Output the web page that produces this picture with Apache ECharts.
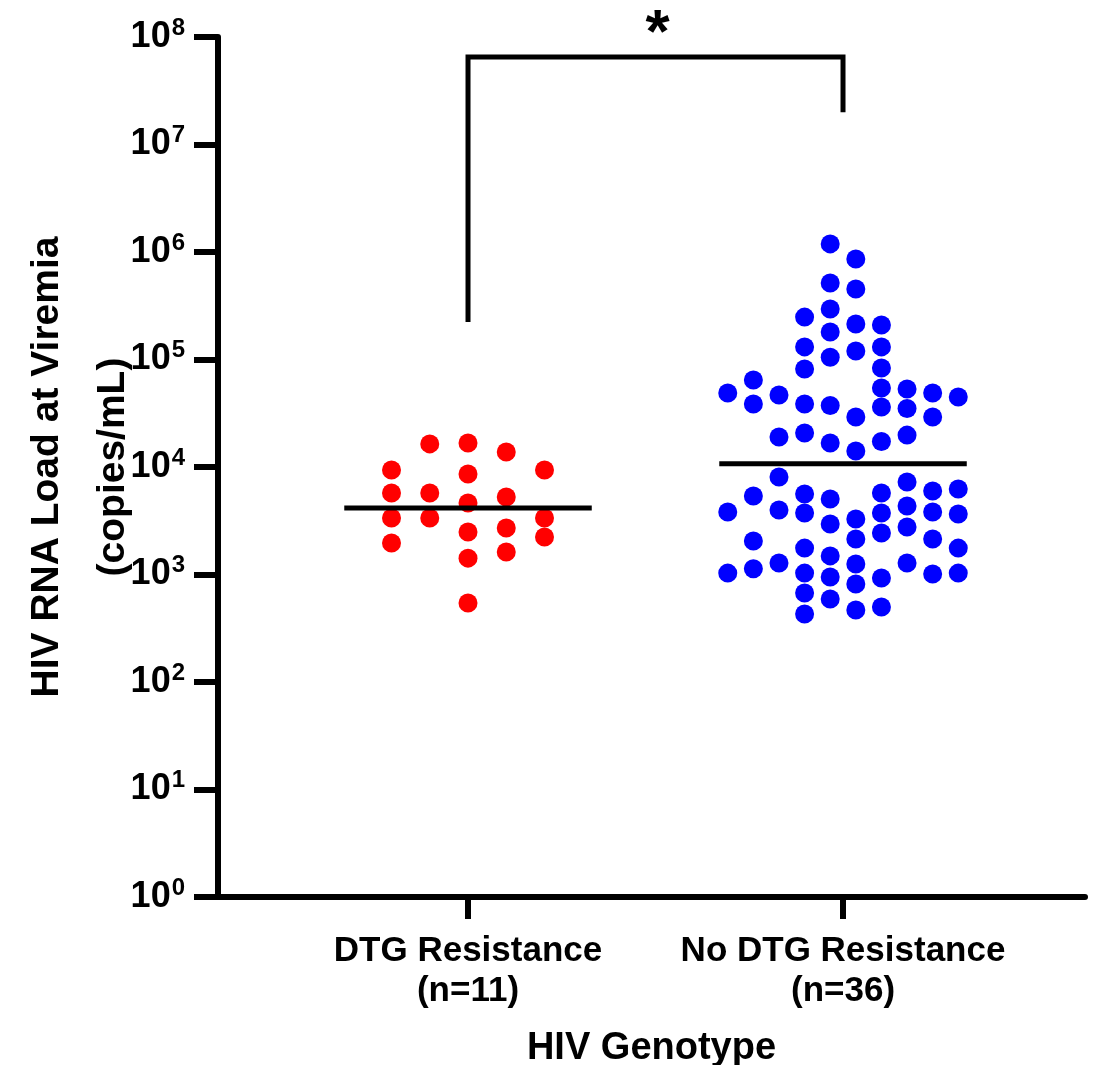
<!DOCTYPE html>
<html>
<head>
<meta charset="utf-8">
<script src="https://cdn.jsdelivr.net/npm/echarts@6/dist/echarts.min.js"></script>
<style>
html,body{margin:0;padding:0;background:#fff}
#main{width:1097px;height:1065px}
</style>
</head>
<body>
<div id="main"></div>
<script>
// groups on the x axis
var categories = ['DTG Resistance\n(n=11)', 'No DTG Resistance\n(n=36)'];

// DTG resistance: jitter lane (0..4) and viral load (copies/mL)
var redLane = [0, 0, 0, 0, 1, 1, 1, 2, 2, 2, 2, 2, 2, 3, 3, 3, 3, 4, 4, 4];
var redLoad = [9380, 5730, 3360, 1960, 16400, 5730, 3360, 16700, 8610, 4630, 2490, 1420, 543, 13800, 5260, 2710, 1620, 9380, 3360, 2230];

// no DTG resistance: jitter lane (0..9) and viral load
var blueLane = [
  0, 0, 0,
  1, 1, 1, 1, 1,
  2, 2, 2, 2, 2,
  3, 3, 3, 3, 3, 3, 3, 3, 3, 3, 3,
  4, 4, 4, 4, 4, 4, 4, 4, 4, 4, 4, 4,
  5, 5, 5, 5, 5, 5, 5, 5, 5, 5, 5,
  6, 6, 6, 6, 6, 6, 6, 6, 6, 6, 6,
  7, 7, 7, 7, 7, 7, 7,
  8, 8, 8, 8, 8, 8,
  9, 9, 9, 9, 9
];
var blueLoad = [
  48800, 3810, 1030,
  64400, 38600, 5370, 2050, 1130,
  46800, 19000, 8070, 3980, 1280,
  248000, 131000, 81600, 38600, 20700, 5610, 3730, 1760, 1030, 673, 429,
  1190000, 515000, 295000, 180000, 105000, 37300, 16700, 5040, 2950, 1490, 948, 592,
  861000, 453000, 214000, 120000, 29200, 14100, 3280, 2140, 1250, 816, 468,
  209000, 131000, 83400, 54300, 36200, 17300, 5730, 3730, 2430, 927, 499,
  53200, 35000, 19800, 7250, 4340, 2770, 1280,
  48800, 29200, 5980, 3810, 2140, 1010,
  44800, 6240, 3650, 1760, 1030
];

// median lines
var medians = [4155, 10700];
var medianHalfWidth = 0.33;

// significance bracket: left foot, top, right foot
var bracketLeft = 223000;
var bracketTop = 65000000;
var bracketRight = 20000000;

var FONT = "'Liberation Sans', Arial, Helvetica, sans-serif";

function toPoints(lanes, loads, center, laneStep, mid) {
  var out = [];
  for (var i = 0; i < loads.length; i++) {
    out.push([center + (lanes[i] - mid) * laneStep, loads[i]]);
  }
  return out;
}

var redData = toPoints(redLane, redLoad, 0, 0.102, 2);
var blueData = toPoints(blueLane, blueLoad, 1, 0.0683, 4.5);

var chart = echarts.init(document.getElementById('main'));

var option = {
  animation: false,
  backgroundColor: '#fff',
  grid: { left: 218, right: 12, top: 37, bottom: 168, containLabel: false, outerBoundsMode: 'none' },
  xAxis: {
    type: 'value',
    min: -0.6667,
    max: 1.6453,
    splitLine: { show: false },
    axisLine: { show: true, onZero: false, lineStyle: { color: '#000', width: 6 } },
    axisTick: { show: true, customValues: [0, 1], length: 22, lineStyle: { color: '#000', width: 6 } },
    axisLabel: {
      customValues: [0, 1],
      margin: 34,
      formatter: function (v) { return categories[Math.round(v)]; },
      fontFamily: FONT, fontSize: 35, fontWeight: 'bold', color: '#000', lineHeight: 40
    },
    name: 'HIV Genotype',
    nameLocation: 'middle',
    nameGap: 133,
    nameMoveOverlap: false,
    nameTextStyle: { fontFamily: FONT, fontSize: 38, fontWeight: 'bold', color: '#000' }
  },
  yAxis: {
    type: 'log',
    logBase: 10,
    min: 1,
    max: 100000000,
    splitNumber: 8,
    splitLine: { show: false },
    minorTick: { show: false },
    axisLine: { show: true, onZero: false, lineStyle: { color: '#000', width: 6 } },
    axisTick: { show: true, length: 24, lineStyle: { color: '#000', width: 6 } },
    axisLabel: {
      margin: 33,
      formatter: function (v) {
        var e = Math.round(Math.log(v) / Math.LN10);
        return '{b|10}{s|' + e + '}';
      },
      rich: {
        b: { fontFamily: FONT, fontSize: 36, fontWeight: 'bold', color: '#000', lineHeight: 42 },
        s: { fontFamily: FONT, fontSize: 24, fontWeight: 'bold', color: '#000', verticalAlign: 'top', lineHeight: 25, padding: [0, 0, 0, 1] }
      }
    },
    name: 'HIV RNA Load at Viremia\n(copies/mL)',
    nameLocation: 'middle',
    nameGap: 72,
    nameMoveOverlap: false,
    nameTextStyle: { fontFamily: FONT, fontSize: 39, fontWeight: 'bold', color: '#000', lineHeight: 66 }
  },
  series: [
    {
      type: 'scatter',
      data: redData,
      symbolSize: 19,
      itemStyle: { color: '#ff0000', opacity: 1 },
      z: 2
    },
    {
      type: 'scatter',
      data: blueData,
      symbolSize: 19,
      itemStyle: { color: '#0000ff', opacity: 1 },
      z: 2
    },
    {
      type: 'line',
      data: [[-medianHalfWidth, medians[0]], [medianHalfWidth, medians[0]]],
      symbol: 'none',
      lineStyle: { color: '#000', width: 5 },
      z: 3
    },
    {
      type: 'line',
      data: [[1 - medianHalfWidth, medians[1]], [1 + medianHalfWidth, medians[1]]],
      symbol: 'none',
      lineStyle: { color: '#000', width: 5 },
      z: 3
    },
    {
      type: 'line',
      data: [[0, bracketLeft], [0, bracketTop], [1, bracketTop], [1, bracketRight]],
      symbol: 'none',
      lineStyle: { color: '#000', width: 5, cap: 'butt', join: 'miter' },
      z: 3,
      markPoint: {
        symbol: 'circle',
        symbolSize: 0,
        data: [{ coord: [0.5, bracketTop] }],
        label: {
          show: true,
          formatter: '*',
          offset: [2, -22],
          fontFamily: FONT, fontSize: 62, fontWeight: 'bold', color: '#000'
        }
      }
    }
  ]
};

chart.setOption(option);
</script>
</body>
</html>
